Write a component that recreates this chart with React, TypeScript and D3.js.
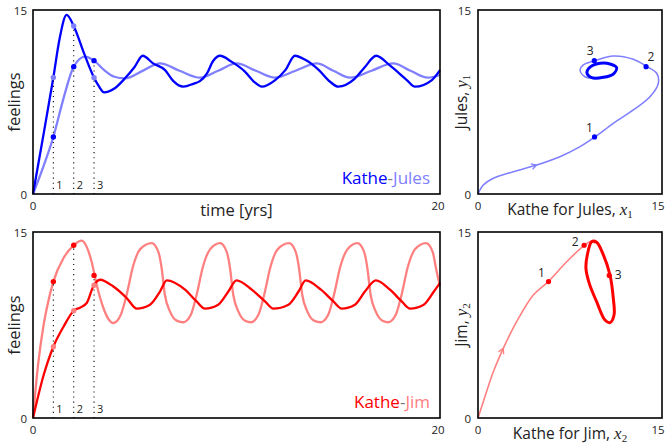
import React from "react";
import * as d3 from "d3";

// ---------- axis ticks ----------
const timeTicks = [0, 20];
const feelTicks = [0, 15];
const phaseTicks = [0, 15];
const markTimes = [1, 2, 3];
const markLabels = ["1", "2", "3"];

// ---------- Kathe – Jules ----------
const jKatheT = [0, 0.5, 1, 1.3, 1.65, 2, 2.5, 3, 3.25, 3.49, 4, 4.52, 5, 5.39, 5.9, 6.49, 6.9, 7.39, 7.9, 8.2, 8.55, 8.85, 9.19, 9.75, 10.4, 10.9, 11.24, 11.9, 12.4, 12.87, 13.4, 14.05, 14.6, 15.0, 15.8, 16.3, 16.86, 17.55, 18.37, 18.77, 19.6, 20];
const jKatheV = [0, 4.7, 9.5, 12.6, 14.6, 13.7, 11.5, 9.48, 8.75, 8.29, 8.6, 9.43, 10.38, 11.27, 10.65, 10.1, 9.2, 8.75, 9.0, 9.2, 9.84, 10.84, 11.27, 10.79, 10.0, 9.1, 8.75, 9.29, 10.1, 11.27, 10.92, 10.1, 9.15, 8.75, 9.38, 10.33, 11.27, 10.46, 9.29, 8.75, 9.29, 10.1];
const jJulesT = [0, 0.5, 1, 1.5, 2, 2.56, 3, 3.5, 4, 4.52, 5.38, 6.24, 7.2, 8.2, 9.1, 10.0, 10.95, 11.9, 12.9, 13.94, 14.76, 15.58, 16.64, 17.7, 18.55, 19.4, 20];
const jJulesV = [0, 2.2, 4.65, 7.8, 10.38, 11.2, 10.87, 10.1, 9.56, 9.43, 10.04, 10.65, 10.05, 9.48, 10.05, 10.65, 10.05, 9.48, 10.05, 10.65, 10.05, 9.48, 10.05, 10.65, 10.05, 9.48, 9.7];
const jDotX = [9.5, 13.7, 9.48];
const jDotY = [4.65, 10.38, 10.87];
const jPathX = [0, 0.43, 1.25, 2.88, 4.78, 6.68, 8.32, 9.54, 11.03, 12.66, 14.02, 14.7, 14.57, 13.78, 12.66, 11.03, 9.54, 8.59, 8.32, 8.72, 9.67, 10.3];
const jPathY = [0, 0.73, 1.28, 1.82, 2.36, 3.04, 3.86, 4.65, 5.76, 6.85, 7.93, 9.02, 9.84, 10.38, 10.98, 11.25, 10.87, 10.52, 10.11, 9.56, 9.43, 9.5];
const jCycleX = [8.88, 9.19, 9.95, 10.76, 11.3, 11.03, 10.22, 9.27];
const jCycleY = [9.89, 10.38, 10.65, 10.6, 10.3, 9.78, 9.51, 9.48];
const jArrowIdx = 4;

// ---------- Kathe – Jim ----------
const mKatheT = [0, 0.5, 1, 1.5, 2, 2.31, 2.64, 2.96, 3.29, 3.95, 4.6, 5.1, 5.75, 6.24, 6.57, 7.47, 8.04, 8.45, 9.1, 9.6, 10.0, 10.75, 11.4, 11.81, 12.55, 13.05, 13.4, 14.15, 14.76, 15.17, 15.82, 16.31, 16.85, 17.54, 18.12, 18.53, 19.2, 19.7, 20];
const mKatheV = [0, 3.33, 5.75, 7.36, 8.65, 8.9, 9.27, 10.6, 11.15, 10.6, 9.68, 8.82, 9.14, 10.2, 11.1, 10.35, 9.4, 8.82, 9.14, 10.2, 11.1, 10.35, 9.4, 8.82, 9.14, 10.2, 11.1, 10.35, 9.4, 8.82, 9.14, 10.2, 11.1, 10.35, 9.4, 8.82, 9.14, 10.2, 10.9];
const mJimT = [0, 0.25, 0.5, 0.75, 1, 1.5, 2, 2.39, 2.64, 2.88, 3.13, 3.46, 3.7, 3.95, 4.31, 4.61, 4.91, 5.26, 5.83, 6.16, 6.32, 6.48, 6.73, 7.06, 7.39, 7.75, 8.05, 8.35, 8.7, 9.19, 9.52, 9.68, 9.84, 10.09, 10.42, 10.71, 11.07, 11.37, 11.67, 12.02, 12.58, 12.91, 13.07, 13.23, 13.48, 13.81, 14.14, 14.5, 14.8, 15.1, 15.45, 15.94, 16.27, 16.43, 16.59, 16.84, 17.17, 17.46, 17.82, 18.12, 18.42, 18.77, 19.31, 19.64, 19.8, 20];
const mJimV = [0, 4.3, 7.3, 9.4, 11.0, 12.9, 13.93, 14.3, 13.8, 12.6, 10.75, 8.87, 8.0, 7.66, 8.3, 10.0, 12.2, 13.6, 14.1, 13.4, 12.1, 9.94, 8.6, 7.85, 7.72, 8.3, 10.0, 12.2, 13.6, 14.1, 13.4, 12.1, 9.94, 8.6, 7.85, 7.72, 8.3, 10.0, 12.2, 13.6, 14.1, 13.4, 12.1, 9.94, 8.6, 7.85, 7.72, 8.3, 10.0, 12.2, 13.6, 14.1, 13.4, 12.1, 9.94, 8.6, 7.85, 7.72, 8.3, 10.0, 12.2, 13.6, 14.1, 13.4, 12.1, 10.6];
const mDotX = [5.75, 8.65, 10.7];
const mDotY = [11.0, 13.93, 11.5];
const mPathX = [0, 0.43, 1.25, 2.06, 3.15, 4.51, 5.73, 7.23, 8.64, 9.27, 9.54];
const mPathY = [0, 1.31, 3.73, 5.62, 7.77, 9.92, 11.0, 12.6, 13.9, 14.27, 14.09];
const mCycleX = [9.27, 8.91, 8.8, 9.07, 9.67, 10.35, 10.76, 11.09, 11.03, 10.76, 10.22, 9.67];
const mCycleY = [14.22, 13.15, 12.07, 10.86, 9.38, 7.9, 7.69, 8.31, 9.65, 11.53, 13.15, 14.17];
const mArrowIdx = 3;

const FONT = "'Open Sans', sans-serif";
const MATH = "'Liberation Serif', 'DejaVu Serif', serif";

type P = [number, number];
const zip = (a: number[], b: number[]): P[] => a.map((v, i) => [v, b[i]]);

const xT = d3.scaleLinear().domain([0, 20]).range([33, 440]);
const xP = d3.scaleLinear().domain([0, 15]).range([478, 662]);
const yTop = d3.scaleLinear().domain([0, 15]).range([194, 10]);
const yBot = d3.scaleLinear().domain([0, 15]).range([418, 232]);

function TimePanel(props: any) {
  const { y, dark, light, kT, kV, pT, pV, dotX, dotY, partner, xlabel } = props;
  const line = d3.line<P>().x((d) => xT(d[0])).y((d) => y(d[1])).curve(d3.curveMonotoneX);
  const [x0, x1] = xT.range();
  const [b, t] = y.range();
  return (
    <g>
      <path d={line(zip(pT, pV)) || ""} fill="none" stroke={light} strokeWidth={2.3} />
      <path d={line(zip(kT, kV)) || ""} fill="none" stroke={dark} strokeWidth={2.3} />
      {markTimes.map((m, i) => (
        <g key={i}>
          <line x1={xT(m)} x2={xT(m)} y1={y(0)} y2={y(Math.max(dotX[i], dotY[i]))} stroke="#000" strokeWidth={1.1} strokeDasharray="1.1,4" />
          <text x={xT(m) + 3} y={y(0) - 5} fontSize={11} fontFamily={FONT} fill="#222">{markLabels[i]}</text>
          <circle cx={xT(m)} cy={y(dotX[i])} r={2.7} fill={light} />
          <circle cx={xT(m)} cy={y(dotY[i])} r={2.7} fill={dark} />
        </g>
      ))}
      <rect x={x0} y={t} width={x1 - x0} height={b - t} fill="none" stroke="#000" strokeWidth={1.6} />
      {feelTicks.map((v) => (
        <text key={v} x={27} y={y(v) + 1} dy="0.35em" textAnchor="end" fontSize={11.5} fontFamily={FONT} fill="#222">{v}</text>
      ))}
      {timeTicks.map((v) => (
        <text key={v} x={xT(v) - (v > 0 ? 2 : 0)} y={y(0) + 16} textAnchor="middle" fontSize={11.5} fontFamily={FONT} fill="#222">{v}</text>
      ))}
      <text transform={`translate(20,${(b + t) / 2}) rotate(-90)`} textAnchor="middle" fontSize={16.5} fontFamily={FONT} fill="#222">feelings</text>
      {xlabel ? (
        <text x={(x0 + x1) / 2} y={y(0) + 22} textAnchor="middle" fontSize={16.5} fontFamily={FONT} fill="#222">{xlabel}</text>
      ) : null}
      <text x={430} y={y(0) - 10} textAnchor="end" fontSize={17} fontFamily={FONT}>
        <tspan fill={dark}>Kathe</tspan>
        <tspan fill="#777">-</tspan>
        <tspan fill={light}>{partner}</tspan>
      </text>
    </g>
  );
}

function PhasePanel(props: any) {
  const { y, dark, light, pathX, pathY, cycX, cycY, dotX, dotY, arrowIdx, xname, yname, sub, offs } = props;
  const open = d3.line<P>().x((d) => xP(d[0])).y((d) => y(d[1])).curve(d3.curveCatmullRom.alpha(0.5));
  const closed = d3.line<P>().x((d) => xP(d[0])).y((d) => y(d[1])).curve(d3.curveCatmullRomClosed.alpha(0.5));
  const [x0, x1] = xP.range();
  const [b, t] = y.range();
  const ax = xP(pathX[arrowIdx]);
  const ay = y(pathY[arrowIdx]);
  const ang = Math.atan2(y(pathY[arrowIdx + 1]) - y(pathY[arrowIdx - 1]), xP(pathX[arrowIdx + 1]) - xP(pathX[arrowIdx - 1]));
  const L = 6;
  const arrow = `M${ax - L * Math.cos(ang - 0.5)},${ay - L * Math.sin(ang - 0.5)}L${ax},${ay}L${ax - L * Math.cos(ang + 0.5)},${ay - L * Math.sin(ang + 0.5)}`;
  return (
    <g>
      <path d={open(zip(pathX, pathY)) || ""} fill="none" stroke={light} strokeWidth={1.6} />
      <path d={arrow} fill="none" stroke={light} strokeWidth={1.3} />
      <path d={closed(zip(cycX, cycY)) || ""} fill="none" stroke={dark} strokeWidth={3} />
      {dotX.map((v: number, i: number) => (
        <g key={i}>
          <circle cx={xP(v)} cy={y(dotY[i])} r={2.6} fill={dark} />
          <text x={xP(v) + offs[i][0]} y={y(dotY[i]) + offs[i][1]} textAnchor="middle" fontSize={12} fontFamily={FONT} fill="#222">{markLabels[i]}</text>
        </g>
      ))}
      <rect x={x0} y={t} width={x1 - x0} height={b - t} fill="none" stroke="#000" strokeWidth={1.6} />
      {phaseTicks.map((v) => (
        <text key={"l" + v} x={471} y={y(v) + 1} dy="0.35em" textAnchor="end" fontSize={11.5} fontFamily={FONT} fill="#222">{v}</text>
      ))}
      {phaseTicks.map((v) => (
        <text key={"b" + v} x={xP(v) - (v > 0 ? 4 : 0)} y={y(0) + 16} textAnchor="middle" fontSize={11.5} fontFamily={FONT} fill="#222">{v}</text>
      ))}
      <text x={(x0 + x1) / 2} y={y(0) + 21} textAnchor="middle" fontSize={15.5} fontFamily={FONT} fill="#222">
        {xname}, <tspan fontFamily={MATH} fontStyle="italic" fontSize={17}>x</tspan>
        <tspan fontFamily={MATH} fontSize={11} dy={3}>{sub}</tspan>
      </text>
      <text transform={`translate(467,${(b + t) / 2}) rotate(-90)`} textAnchor="middle" fontSize={15.5} fontFamily={FONT} fill="#222">
        {yname}, <tspan fontFamily={MATH} fontStyle="italic" fontSize={17}>y</tspan>
        <tspan fontFamily={MATH} fontSize={11} dy={3}>{sub}</tspan>
      </text>
    </g>
  );
}

export default function App() {
  const blue = "#0000ff";
  const lblue = "#8080ff";
  const red = "#ff0000";
  const lred = "#ff8080";
  return (
    <svg width={666} height={446} style={{ position: "absolute", left: 0, top: 0, background: "#fff" }}>
      <TimePanel y={yTop} dark={blue} light={lblue} kT={jKatheT} kV={jKatheV} pT={jJulesT} pV={jJulesV} dotX={jDotX} dotY={jDotY} partner="Jules" xlabel="time [yrs]" />
      <TimePanel y={yBot} dark={red} light={lred} kT={mKatheT} kV={mKatheV} pT={mJimT} pV={mJimV} dotX={mDotX} dotY={mDotY} partner="Jim" />
      <PhasePanel y={yTop} dark={blue} light={lblue} pathX={jPathX} pathY={jPathY} cycX={jCycleX} cycY={jCycleY} dotX={jDotX} dotY={jDotY} arrowIdx={jArrowIdx} xname="Kathe for Jules" yname="Jules" sub="1" offs={[[-5, -5], [5, -6], [-4, -6]]} />
      <PhasePanel y={yBot} dark={red} light={lred} pathX={mPathX} pathY={mPathY} cycX={mCycleX} cycY={mCycleY} dotX={mDotX} dotY={mDotY} arrowIdx={mArrowIdx} xname="Kathe for Jim" yname="Jim" sub="2" offs={[[-7, -5], [-9, 1], [9, 4]]} />
    </svg>
  );
}
